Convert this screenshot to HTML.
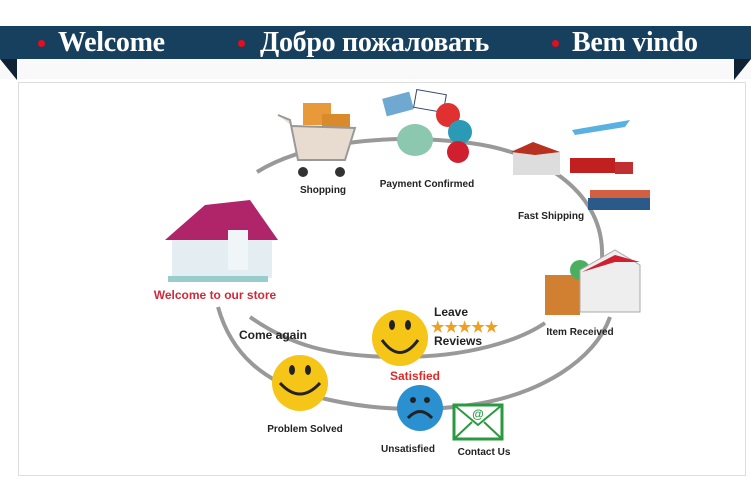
<!DOCTYPE html>
<html><head><meta charset="utf-8"><style>
body{margin:0;width:751px;height:479px;background:#fff;overflow:hidden;position:relative;font-family:"Liberation Sans",sans-serif}
.ban{position:absolute;left:0;top:26px;width:751px;height:33px;background:#17405f}
.ban span{position:absolute;top:0px;color:#fff;font-family:"Liberation Serif",serif;font-weight:bold;font-size:28px;line-height:33px;white-space:nowrap;letter-spacing:-0.3px}
.dot{position:absolute;top:14px;width:7px;height:7px;border-radius:50%;background:#e01020}
.box{position:absolute;left:18px;top:82px;width:726px;height:392px;border:1px solid #ddd}
</style></head><body>
<div class="ban">
<div class="dot" style="left:38px"></div><span style="left:58px">Welcome</span>
<div class="dot" style="left:238px"></div><span style="left:260px">Добро пожаловать</span>
<div class="dot" style="left:552px"></div><span style="left:572px">Bem vindo</span>
</div>
<svg style="position:absolute;left:0;top:0" width="751" height="479">
<rect x="0" y="59" width="751" height="20" fill="#f9f9f9"/>
<polygon points="0,59 17,59 17,80" fill="#0e2233"/>
<polygon points="734,59 751,59 734,80" fill="#0e2233"/>
</svg>
<div class="box"></div>
<svg style="position:absolute;left:0;top:0" width="751" height="479" font-family="Liberation Sans,sans-serif" font-weight="bold">
<g fill="none" stroke="#999" stroke-width="4">
<path d="M257,172 C300,145 380,132 470,143 C540,152 600,190 602,250 C603,280 598,295 593,303"/>
<path d="M250,317 C290,345 330,357 400,357 C470,357 520,340 545,323"/>
<path d="M218,307 C230,350 260,385 330,400 C380,411 430,411 470,405 C540,395 595,360 610,317"/>
</g>
<!-- cart -->
<rect x="303" y="103" width="28" height="22" fill="#e89a3a"/><rect x="322" y="114" width="28" height="14" fill="#d98a2a"/>
<path d="M278,115 L290,120 L298,160 L345,160 L355,128 L292,126" fill="#e8dcd0" stroke="#999" stroke-width="2"/>
<circle cx="303" cy="172" r="5" fill="#333"/><circle cx="340" cy="172" r="5" fill="#333"/>
<!-- cards/coins -->
<rect x="384" y="95" width="28" height="18" fill="#6fa8d0" transform="rotate(-15 398 104)"/>
<rect x="415" y="92" width="30" height="18" fill="#fff" stroke="#346" transform="rotate(10 430 101)"/>
<circle cx="448" cy="115" r="12" fill="#e03030"/><circle cx="460" cy="132" r="12" fill="#2a9ab5"/><circle cx="458" cy="152" r="11" fill="#d02030"/>
<ellipse cx="415" cy="140" rx="18" ry="16" fill="#8cc7b0"/>
<!-- shipping -->
<polygon points="513,150 535,143 560,152 560,175 513,175" fill="#ddd"/><polygon points="511,152 533,142 560,152 535,155" fill="#b83020"/>
<path d="M572,130 L630,120 L625,127 L575,135Z" fill="#5ab0e0"/>
<rect x="570" y="158" width="45" height="15" fill="#c02020"/><rect x="615" y="162" width="18" height="12" fill="#c03030"/>
<rect x="588" y="198" width="62" height="12" fill="#2a5a8a"/><rect x="590" y="190" width="60" height="8" fill="#d06040"/>
<!-- store house -->
<polygon points="165,240 205,205 250,200 278,240" fill="#b0246a"/>
<rect x="172" y="240" width="100" height="38" fill="#e4eef2"/>
<rect x="228" y="230" width="20" height="40" fill="#f0f6f8"/>
<rect x="168" y="276" width="100" height="6" fill="#9cc"/>
<!-- item received -->
<rect x="545" y="275" width="35" height="40" fill="#d08030"/>
<circle cx="580" cy="270" r="10" fill="#4ab060"/>
<polygon points="580,270 615,250 640,265 640,312 580,312" fill="#eee" stroke="#aaa"/>
<polygon points="582,272 615,255 640,262 615,262" fill="#d02030"/>
<!-- smileys -->
<circle cx="400" cy="338" r="28" fill="#f5c518"/><path d="M382,340 Q400,365 418,340" stroke="#222" stroke-width="3" fill="none"/><ellipse cx="392" cy="325" rx="3" ry="5" fill="#222"/><ellipse cx="408" cy="325" rx="3" ry="5" fill="#222"/>
<circle cx="300" cy="383" r="28" fill="#f5c518"/><path d="M280,383 Q300,405 320,383" stroke="#222" stroke-width="3" fill="none"/><ellipse cx="292" cy="370" rx="3" ry="5" fill="#222"/><ellipse cx="308" cy="370" rx="3" ry="5" fill="#222"/>
<circle cx="420" cy="408" r="23" fill="#2a90d0"/><path d="M408,418 Q420,405 432,418" stroke="#222" stroke-width="3" fill="none"/><circle cx="413" cy="400" r="3" fill="#222"/><circle cx="427" cy="400" r="3" fill="#222"/>
<rect x="454" y="405" width="48" height="34" fill="#fff" stroke="#2a9a40" stroke-width="3"/><path d="M454,405 L478,425 L502,405 M454,439 L472,422 M502,439 L484,422" stroke="#2a9a40" stroke-width="2" fill="none"/>
<text x="478" y="418" font-size="12" fill="#2a9a40" text-anchor="middle">@</text>
<g font-size="10" fill="#222" text-anchor="middle">
<text x="323" y="193">Shopping</text>
<text x="427" y="187">Payment Confirmed</text>
<text x="551" y="219">Fast Shipping</text>
<text x="580" y="335">Item Received</text>
<text x="305" y="432">Problem Solved</text>
<text x="408" y="452">Unsatisfied</text>
<text x="484" y="455">Contact Us</text>
</g>
<text x="215" y="299" font-size="12" fill="#d02a3a" text-anchor="middle">Welcome to our store</text>
<text x="415" y="380" font-size="12" fill="#e02a2a" text-anchor="middle">Satisfied</text>
<text x="239" y="339" font-size="12" fill="#222">Come again</text>
<text x="434" y="316" font-size="12" fill="#222">Leave</text>
<text x="434" y="345" font-size="12" fill="#222">Reviews</text>
<text x="431" y="332" font-size="15" fill="#f0a020">★★★★★</text>
</svg>
</body></html>
